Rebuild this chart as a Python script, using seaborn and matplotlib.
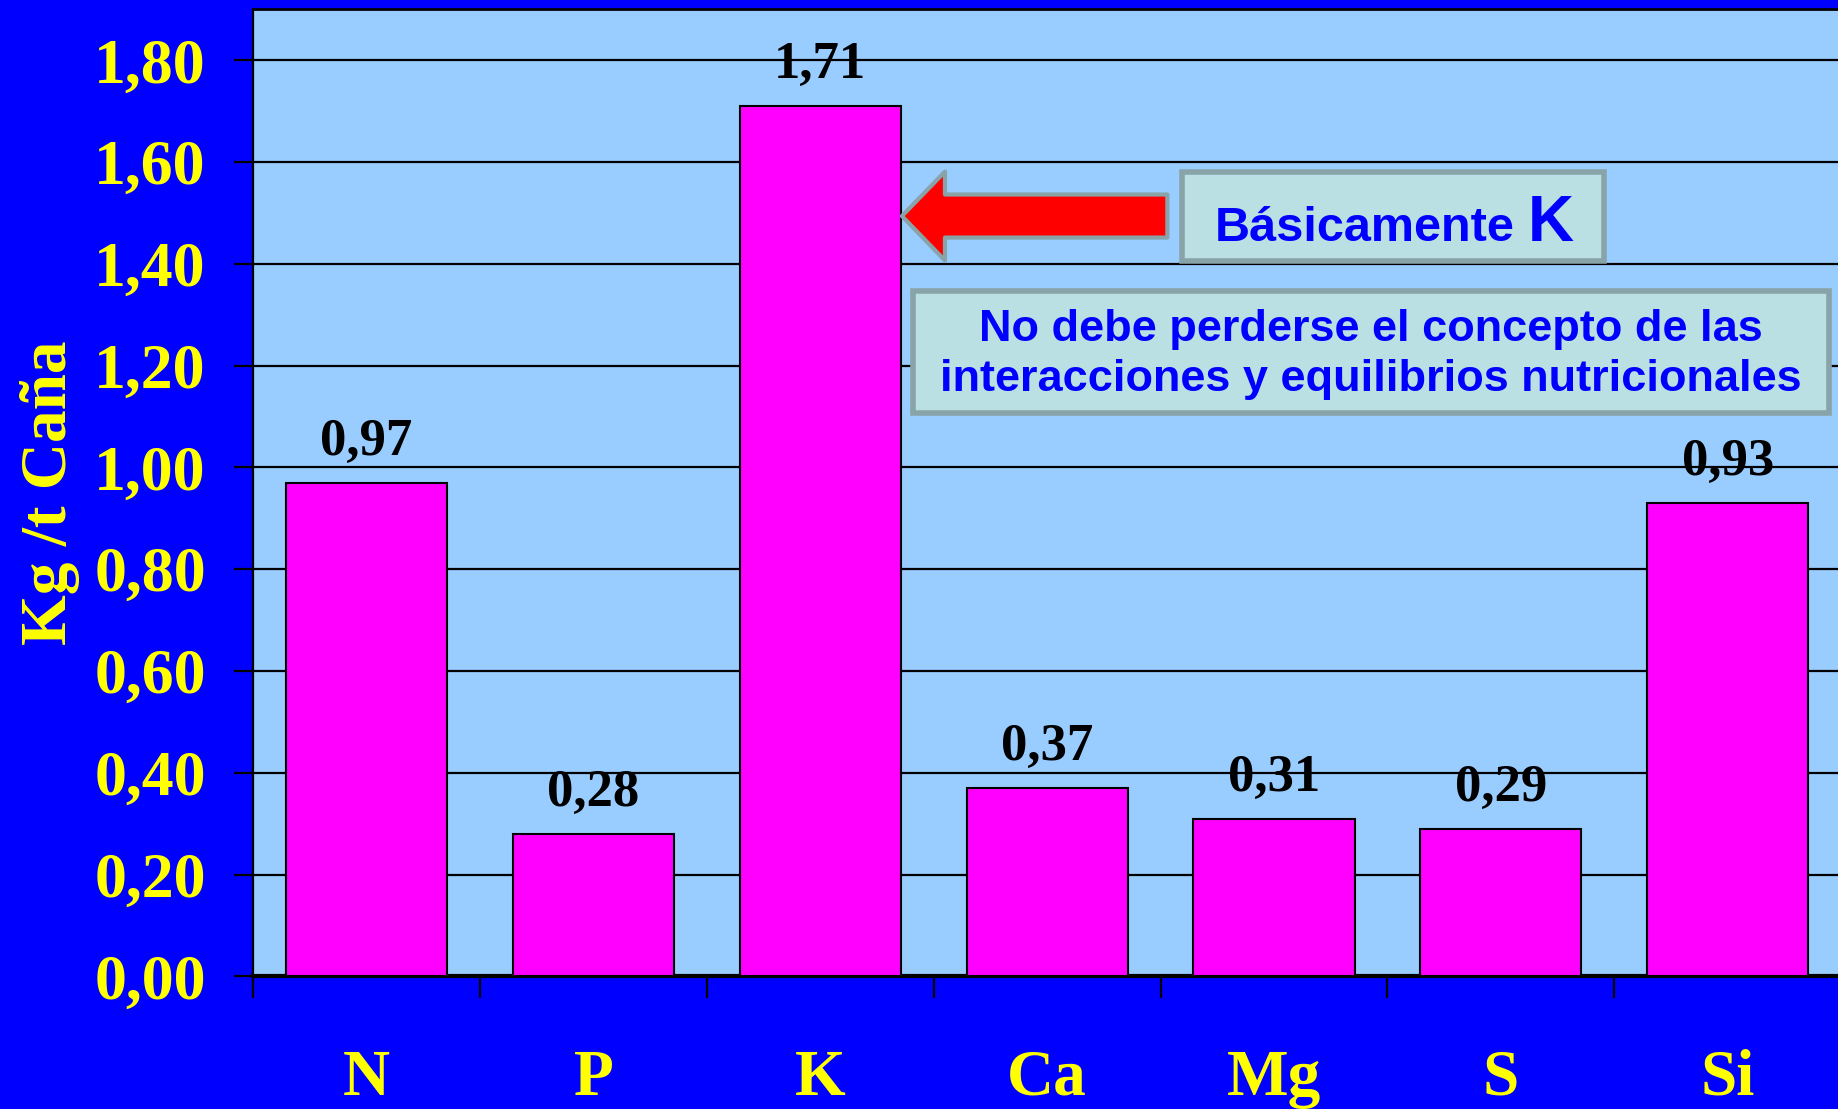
import numpy as np
import pandas as pd
import matplotlib
matplotlib.use("Agg")
import matplotlib.pyplot as plt
import seaborn as sns
from matplotlib.patches import Rectangle

NUTRIENTS = ["N", "P", "K", "Ca", "Mg", "S", "Si"]
KG_PER_TON = [0.97, 0.28, 1.71, 0.37, 0.31, 0.29, 0.93]
Y_TICKS = [0.0, 0.2, 0.4, 0.6, 0.8, 1.0, 1.2, 1.4, 1.6, 1.8]
Y_LABEL = "Kg /t Caña"
NOTE_MAIN = "Básicamente"
NOTE_LETTER = "K"
NOTE_DETAIL = "No debe perderse el concepto de las\ninteracciones y equilibrios nutricionales"

PAGE_BLUE = "#0000FF"
PLOT_FACE = "#99CCFF"
BAR_COLOR = "#FF00FF"
TEXT_YELLOW = "#FFFF00"
BOX_FACE = "#BBE0E3"
BOX_EDGE = "#88A4A8"
SERIF = ["Liberation Serif", "DejaVu Serif"]
SANS = ["Liberation Sans", "DejaVu Sans"]


def comma_number(value: float) -> str:
    return f"{value:.2f}".replace(".", ",")


class NutrientChartRenderer:

    def __init__(self, dataframe: pd.DataFrame) -> None:
        self.dataframe = dataframe

    def render(self, path: str) -> None:
        sns.set_style("white")
        plt.rcParams["font.family"] = SERIF
        plt.rcParams["font.weight"] = "bold"

        figure = plt.figure(figsize=(18.38, 11.09), dpi=100, facecolor=PAGE_BLUE)
        axes = figure.add_axes([0.1377, 0.1196, 0.8640, 0.8719])
        axes.set_facecolor(PLOT_FACE)

        sns.barplot(
            data=self.dataframe,
            x="Nutriente",
            y="Valor",
            color=BAR_COLOR,
            saturation=1,
            width=0.71,
            edgecolor="black",
            linewidth=1.5,
            ax=axes,
            zorder=3,
        )

        axes.set_xlim(-0.5, len(NUTRIENTS) - 0.5)
        axes.set_ylim(0, 1.9)
        axes.set_yticks(Y_TICKS)
        axes.set_yticklabels([comma_number(v) for v in Y_TICKS])
        axes.yaxis.grid(True, color="black", linewidth=1.6)
        axes.xaxis.grid(False)
        axes.set_axisbelow(True)

        axes.tick_params(axis="y", direction="out", length=14, width=1.6,
                         color="black", pad=20, labelsize=46, labelcolor=TEXT_YELLOW, left=True)
        axes.set_xticks(np.arange(-0.5, len(NUTRIENTS), 1.0), minor=True)
        axes.tick_params(axis="x", which="minor", direction="out", length=16,
                         width=1.6, color="black", bottom=True)
        axes.tick_params(axis="x", which="major", length=0, pad=52,
                         labelsize=47, labelcolor=TEXT_YELLOW)
        for label in axes.get_xticklabels() + axes.get_yticklabels():
            label.set_fontweight("bold")

        axes.set_xlabel("")
        axes.set_ylabel(Y_LABEL, fontsize=47, fontweight="bold", color=TEXT_YELLOW)
        axes.yaxis.set_label_coords(-0.109, 0.5)

        for side in ["left", "top", "bottom", "right"]:
            axes.spines[side].set_color("black")
        axes.spines["left"].set_linewidth(1.6)
        axes.spines["top"].set_linewidth(2.0)
        axes.spines["bottom"].set_linewidth(3.0)

        for index, value in enumerate(self.dataframe["Valor"]):
            axes.annotate(
                comma_number(value),
                xy=(index, value),
                xytext=(0, 20),
                textcoords="offset points",
                ha="center",
                va="baseline",
                fontsize=38,
                fontweight="bold",
                color="black",
                zorder=5,
            )

        # arrow pointing at the K bar
        axes.annotate(
            "",
            xy=(2.36, 1.494),
            xytext=(3.53, 1.494),
            arrowprops=dict(
                arrowstyle="simple,head_length=3.1,head_width=6.4,tail_width=3.1",
                mutation_scale=10,
                facecolor="red",
                edgecolor=BOX_EDGE,
                linewidth=3,
                shrinkA=0,
                shrinkB=0,
            ),
            zorder=6,
        )

        axes.add_patch(Rectangle((3.593, 1.406), 1.86, 0.175, facecolor=BOX_FACE,
                                 edgecolor=BOX_EDGE, linewidth=4, zorder=6))
        axes.text(3.74, 1.445, NOTE_MAIN, fontsize=35, fontweight="bold",
                  family=SANS, color=PAGE_BLUE, va="baseline", ha="left", zorder=7)
        axes.text(5.118, 1.445, NOTE_LETTER, fontsize=46, fontweight="bold",
                  family=SANS, color=PAGE_BLUE, va="baseline", ha="left", zorder=7)

        axes.add_patch(Rectangle((2.41, 1.107), 4.036, 0.24, facecolor=BOX_FACE,
                                 edgecolor=BOX_EDGE, linewidth=4, zorder=6))
        axes.text(4.428, 1.222, NOTE_DETAIL, fontsize=32.5, fontweight="bold",
                  family=SANS, color=PAGE_BLUE, ha="center", va="center",
                  multialignment="center", linespacing=1.3, zorder=7)

        figure.savefig(path, dpi=100, facecolor=PAGE_BLUE)
        plt.close(figure)


def run_chart() -> None:
    dataframe = pd.DataFrame({"Nutriente": NUTRIENTS, "Valor": KG_PER_TON})
    renderer = NutrientChartRenderer(dataframe)
    renderer.render("out.png")


run_chart()
